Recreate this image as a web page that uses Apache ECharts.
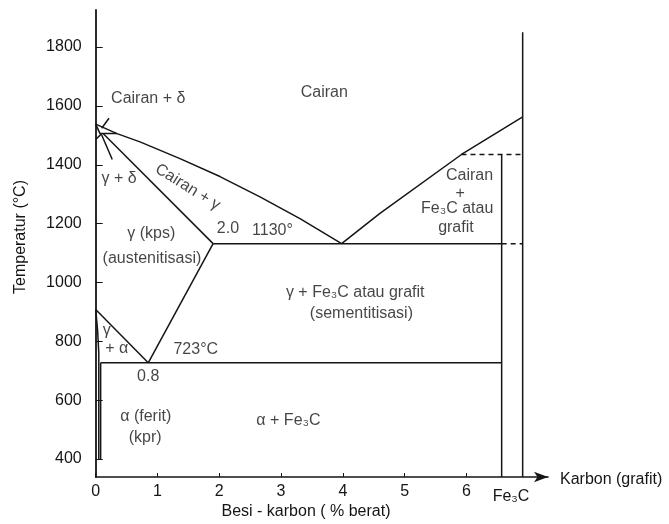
<!DOCTYPE html>
<html lang="id">
<head>
<meta charset="UTF-8">
<title>Diagram fase besi - karbon</title>
<script src="https://cdn.jsdelivr.net/npm/echarts@6/dist/echarts.min.js"></script>
<style>
  html, body { margin: 0; padding: 0; background: #fff; }
  #main { width: 669px; height: 524px; }
</style>
</head>
<body>
<div id="main"></div>
<script type="text/javascript">
    // sumbu
    var xTicks = [0, 1, 2, 3, 4, 5, 6];
    var yTicks = [400, 600, 800, 1000, 1200, 1400, 1600, 1800];
    var xMin = 0, xMax = 7.32;
    var yMin = 339, yMax = 1926;

    // garis fase (% C, suhu °C)
    var liquidusKiri = [[0, 1538], [0.345, 1506], [0.717, 1478], [1.364, 1421], [2.011, 1360], [2.659, 1291], [3.306, 1217], [3.98, 1132]];
    var liquidusKanan = [[3.98, 1132], [4.60, 1235], [5.92, 1435], [6.91, 1563]];
    var solidusDelta = [[0, 1538], [0.07, 1506]];
    var peritektik = [[0.07, 1506], [0.345, 1506]];
    var batasGammaDelta = [[0, 1486], [0.097, 1506]];
    var solidusGamma = [[0.12, 1506], [1.90, 1132]];
    var penunjukCairanDelta = [[0.097, 1524], [0.215, 1558]];
    var penunjukGammaDelta = [[0.097, 1501], [0.268, 1418]];
    var eutektik = [[1.90, 1132], [6.57, 1132]];
    var eutektikPutus = [[6.57, 1132], [6.91, 1132]];
    var garis1435Putus = [[5.92, 1435], [6.91, 1435]];
    var fe3cKiri = [[6.57, 1435], [6.57, 339]];
    var fe3cKanan = [[6.91, 1850], [6.91, 339]];
    var garisA3 = [[0, 908], [0.85, 727]];
    var garisAcm = [[0.85, 727], [1.90, 1132]];
    var eutektoid = [[0.08, 727], [6.57, 727]];
    var batasAlpha = [[0, 908], [0.03, 840], [0.05, 760], [0.05, 400]];
    var solvusAlpha = [[0.08, 727], [0.08, 398]];

    // teks daerah fase
    var labelTeks = ['Cairan', 'Cairan + δ', 'γ + δ', 'Cairan + γ', 'γ (kps)', '(austenitisasi)',
        '2.0', '1130°', 'Cairan', '+', 'Fe₃C atau', 'grafit',
        'γ + Fe₃C atau grafit', '(sementitisasi)', 'γ', '+ α', '723°C', '0.8',
        'α (ferit)', '(kpr)', 'α + Fe₃C'];
    var labelC = [3.70, 0.85, 0.38, 1.49, 0.90, 0.91,
        2.14, 2.86, 6.05, 5.90, 5.85, 5.83,
        4.20, 4.30, 0.18, 0.34, 1.62, 0.85,
        0.81, 0.80, 3.12];
    var labelT = [1644, 1626, 1354, 1324, 1167, 1082,
        1183, 1175, 1364, 1303, 1252, 1186,
        967, 894, 837, 775, 772, 681,
        545, 474, 531];
    var labelPutar = [0, 0, 0, -32, 0, 0,
        0, 0, 0, 0, 0, 0,
        0, 0, 0, 0, 0, 0,
        0, 0, 0];

    var fontUtama = '"Liberation Sans", Arial, sans-serif';
    var warna = '#151515';

    function garis(data, putus) {
        return {
            type: 'line',
            data: data,
            symbol: 'none',
            silent: true,
            lineStyle: { color: warna, width: 1.5, type: putus ? [5, 4] : 'solid' }
        };
    }

    var series = [
        garis(liquidusKiri), garis(liquidusKanan), garis(solidusDelta), garis(peritektik),
        garis(batasGammaDelta), garis(solidusGamma), garis(penunjukCairanDelta), garis(penunjukGammaDelta),
        garis(eutektik), garis(eutektikPutus, true), garis(garis1435Putus, true),
        garis(fe3cKiri), garis(fe3cKanan), garis(garisA3), garis(garisAcm),
        garis(eutektoid), garis(batasAlpha), garis(solvusAlpha)
    ];

    var labelData = [];
    for (var i = 0; i < labelTeks.length; i++) {
        labelData.push({
            name: labelTeks[i],
            value: [labelC[i], labelT[i]],
            label: { rotate: labelPutar[i] }
        });
    }
    series.push({
        type: 'scatter',
        data: labelData,
        symbolSize: 0,
        silent: true,
        label: {
            show: true,
            position: 'inside',
            formatter: '{b}',
            color: warna,
            fontFamily: fontUtama,
            fontSize: 16,
            align: 'center',
            verticalAlign: 'middle'
        }
    });

    var myChart = echarts.init(document.getElementById('main'), null, { renderer: 'canvas' });
    var option = {
        animation: false,
        backgroundColor: '#fff',
        grid: { left: 95.7, right: 121, top: 10, bottom: 47 },
        xAxis: {
            type: 'value',
            min: xMin,
            max: xMax,
            splitLine: { show: false },
            axisLine: {
                show: true,
                lineStyle: { color: warna, width: 1.6 },
                symbol: ['none', 'arrow'],
                symbolSize: [8, 14]
            },
            axisTick: { show: true, inside: true, length: 4, customValues: xTicks, lineStyle: { color: warna } },
            axisLabel: {
                customValues: xTicks, margin: 7, color: warna, fontFamily: fontUtama, fontSize: 16,
                formatter: function (v) { return String(v); }
            }
        },
        yAxis: {
            type: 'value',
            min: yMin,
            max: yMax,
            splitLine: { show: false },
            axisLine: { show: true, lineStyle: { color: warna, width: 1.8 } },
            axisTick: { show: true, inside: true, length: 7, customValues: yTicks, lineStyle: { color: warna } },
            axisLabel: {
                customValues: yTicks, margin: 14, color: warna, fontFamily: fontUtama, fontSize: 16,
                formatter: function (v) { return String(v); }
            }
        },
        graphic: [
            {
                type: 'text', x: 21, y: 237, rotation: Math.PI / 2,
                style: { text: 'Temperatur (°C)', fill: warna, font: '16px ' + fontUtama, align: 'center', verticalAlign: 'middle' }
            },
            {
                type: 'text', x: 306, y: 512,
                style: { text: 'Besi - karbon ( % berat)', fill: warna, font: '16px ' + fontUtama, align: 'center', verticalAlign: 'middle' }
            },
            {
                type: 'text', x: 560, y: 480,
                style: { text: 'Karbon (grafit)', fill: warna, font: '16px ' + fontUtama, align: 'left', verticalAlign: 'middle' }
            },
            {
                type: 'text', x: 511, y: 497,
                style: { text: 'Fe₃C', fill: warna, font: '16px ' + fontUtama, align: 'center', verticalAlign: 'middle' }
            }
        ],
        series: series
    };
    myChart.setOption(option);
</script>
</body>
</html>
